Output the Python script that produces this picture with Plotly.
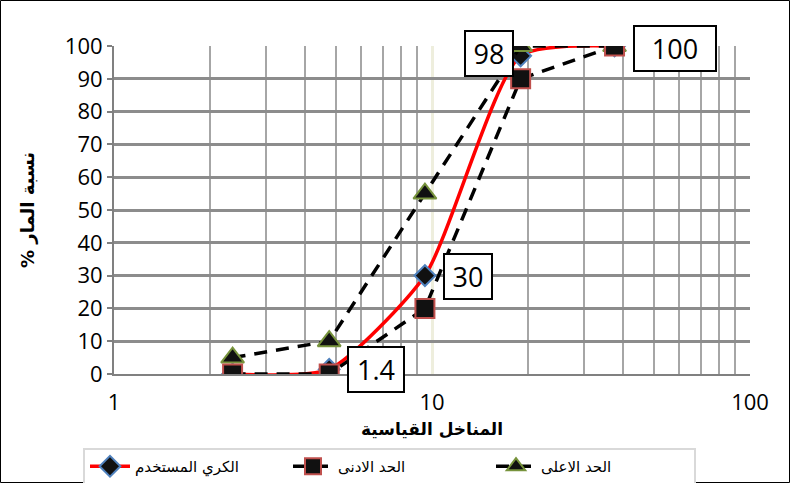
import numpy as np
import plotly.graph_objects as go

# Data
sieves = [2.36, 4.75, 9.5, 19, 37.5]
used = [0, 1.4, 30, 97, 100]
lower = [0, 0, 20, 90, 100]
upper = [5, 10, 55, 100, 100]

label_idx = [1, 2, 3, 4]
label_text = ["1.4", "30", "98", "100"]
label_shift = [(47, 0), (43, -1), (-32, 2), (60, -2)]
label_width = [52, 44, 44, 78]

name_used = "الكري المستخدم"
name_lower = "الحد الادنى"
name_upper = "الحد الاعلى"
x_title = "المناخل القياسية"
y_title = "نسبة المار %\u200f"

x_major = [1, 10, 100]
x_minor = [2, 3, 4, 5, 6, 7, 8, 9, 20, 30, 40, 50, 60, 70, 80, 90]
y_ticks = list(range(0, 101, 10))

W, H = 790, 483
L, R, T, B = 114, 40, 46, 109
PW, PH = W - L - R, H - T - B

ar_font = "DejaVu Sans"
num_font = "Open Sans"

fig = go.Figure()

fig.add_trace(go.Scatter(
    x=sieves, y=used, name=name_used, mode="lines+markers",
    line=dict(color="#ff0000", width=3.5, shape="spline", smoothing=0.6),
    marker=dict(symbol="diamond", size=16, color="#111111",
                line=dict(color="#4f81bd", width=2)),
    legendrank=1,
))
fig.add_trace(go.Scatter(
    x=sieves, y=upper, name=name_upper, mode="lines+markers",
    line=dict(color="#000000", width=3.5, dash="13px,9px"),
    marker=dict(symbol="triangle-up", size=20, color="#111111",
                line=dict(color="#77933c", width=2)),
    legendrank=3,
))
fig.add_trace(go.Scatter(
    x=sieves, y=lower, name=name_lower, mode="lines+markers",
    line=dict(color="#000000", width=3.5, dash="13px,9px"),
    marker=dict(symbol="square", size=19, color="#111111",
                line=dict(color="#c0504d", width=2)),
    legendrank=2,
))

annotations = []
for i, txt, (dx, dy), w in zip(label_idx, label_text, label_shift, label_width):
    annotations.append(dict(
        x=np.log10(sieves[i]), y=used[i], xref="x", yref="y",
        text=txt, showarrow=False, xshift=dx, yshift=dy,
        font=dict(family=num_font, size=27, color="#000000"),
        bgcolor="#ffffff", bordercolor="#000000", borderwidth=2,
        width=w, height=41, borderpad=1, align="center", valign="middle",
    ))

fig.update_layout(
    width=W, height=H,
    margin=dict(l=L, r=R, t=T, b=B),
    paper_bgcolor="#ffffff", plot_bgcolor="#ffffff",
    showlegend=True,
    legend=dict(
        orientation="h", x=83 / W, xanchor="left", xref="container",
        y=1 - 448 / H, yanchor="top", yref="container",
        font=dict(family=ar_font, size=15, color="#000000"),
        bordercolor="#d9d9d9", borderwidth=2, bgcolor="#ffffff",
        entrywidth=148, itemwidth=40, traceorder="normal",
    ),
    annotations=annotations,
    shapes=[dict(
        type="rect", xref="paper", yref="paper",
        x0=(0.5 - L) / PW, x1=(W - 0.5 - L) / PW,
        y0=-(B - 0.5) / PH, y1=(PH + T - 0.5) / PH,
        line=dict(color="#000000", width=1), layer="below",
    )],
)

fig.update_xaxes(
    type="log", range=[0, 2],
    tickvals=x_major, ticktext=[str(v) for v in x_major],
    showgrid=True, gridcolor="#eeeedd", gridwidth=3,
    minor=dict(tickvals=x_minor, showgrid=True, gridcolor="#a6a6a6",
               gridwidth=2, ticks=""),
    showline=True, linecolor="#808080", linewidth=2,
    ticks="", ticklabelstandoff=8,
    tickfont=dict(family=num_font, size=22, color="#000000"),
    title=dict(text="<b>" + x_title + "</b>", standoff=8,
               font=dict(family=ar_font, size=17, color="#000000")),
    zeroline=False,
)
fig.update_yaxes(
    range=[0, 100], tickvals=y_ticks,
    showgrid=True, gridcolor="#8c8c8c", gridwidth=3,
    showline=True, linecolor="#808080", linewidth=2,
    ticks="outside", ticklen=5, tickcolor="#808080", tickwidth=2,
    tickfont=dict(family=num_font, size=22, color="#000000"),
    title=dict(text="<b>" + y_title + "</b>", standoff=26,
               font=dict(family=ar_font, size=18, color="#000000")),
    zeroline=False,
)

fig.write_html("out.html")
